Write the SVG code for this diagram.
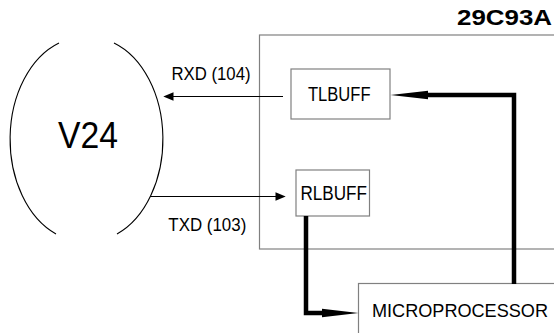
<svg xmlns="http://www.w3.org/2000/svg" width="554" height="333" viewBox="0 0 554 333">
<style>
text{font-family:"Liberation Sans",Arial,sans-serif;fill:#000}
.box{fill:#fff;stroke:#808080;stroke-width:1.2}
.thin{stroke:#000;stroke-width:1;fill:none}
.thick{stroke:#000;stroke-width:4.5;fill:none;stroke-linejoin:miter;stroke-linecap:butt}
.arc{stroke:#000;stroke-width:1.1;fill:none}
</style>
<rect width="554" height="333" fill="#fff"/>
<g id="chip">
<rect class="box" x="259.5" y="35" width="320" height="214"/>
<text x="457" y="25" font-size="22" font-weight="bold" textLength="95" lengthAdjust="spacingAndGlyphs">29C93A</text>
</g>
<g id="v24">
<path class="arc" d="M59,43 A73,102 0 0 0 56,234"/>
<path class="arc" d="M114,43 A73,102 0 0 1 117,234"/>
<text x="58" y="148" font-size="37" textLength="60" lengthAdjust="spacingAndGlyphs">V24</text>
</g>
<g id="tlbuff">
<rect class="box" x="291" y="69" width="99" height="50"/>
<text x="308" y="100.5" font-size="19.5" textLength="62.5" lengthAdjust="spacingAndGlyphs">TLBUFF</text>
</g>
<g id="rlbuff">
<rect class="box" x="296" y="170" width="73.5" height="46"/>
<text x="300.5" y="200" font-size="19.5" textLength="66.5" lengthAdjust="spacingAndGlyphs">RLBUFF</text>
</g>
<g id="microprocessor">
<rect class="box" x="358.5" y="283.5" width="220" height="70"/>
<text x="372" y="317" font-size="19" textLength="176" lengthAdjust="spacingAndGlyphs">MICROPROCESSOR</text>
</g>
<g id="connectors">
<line class="thin" x1="283" y1="96.5" x2="172" y2="96.5"/>
<polygon points="163.3,96.5 173.5,92.3 173.5,100.7" fill="#000"/>
<text x="171.5" y="80" font-size="18.5" textLength="79" lengthAdjust="spacingAndGlyphs">RXD (104)</text>
<line class="thin" x1="150" y1="196.5" x2="277" y2="196.5"/>
<polygon points="285.7,196.5 275.5,192.3 275.5,200.7" fill="#000"/>
<text x="168.3" y="231" font-size="18.5" textLength="78" lengthAdjust="spacingAndGlyphs">TXD (103)</text>
<path class="thick" d="M514,284 V95 H426"/>
<polygon points="390.5,95 428,90.8 428,99.2" fill="#000"/>
<path class="thick" d="M306,216 V313 H324"/>
<polygon points="358.5,313 322,308.8 322,317.2" fill="#000"/>
</g>
</svg>
